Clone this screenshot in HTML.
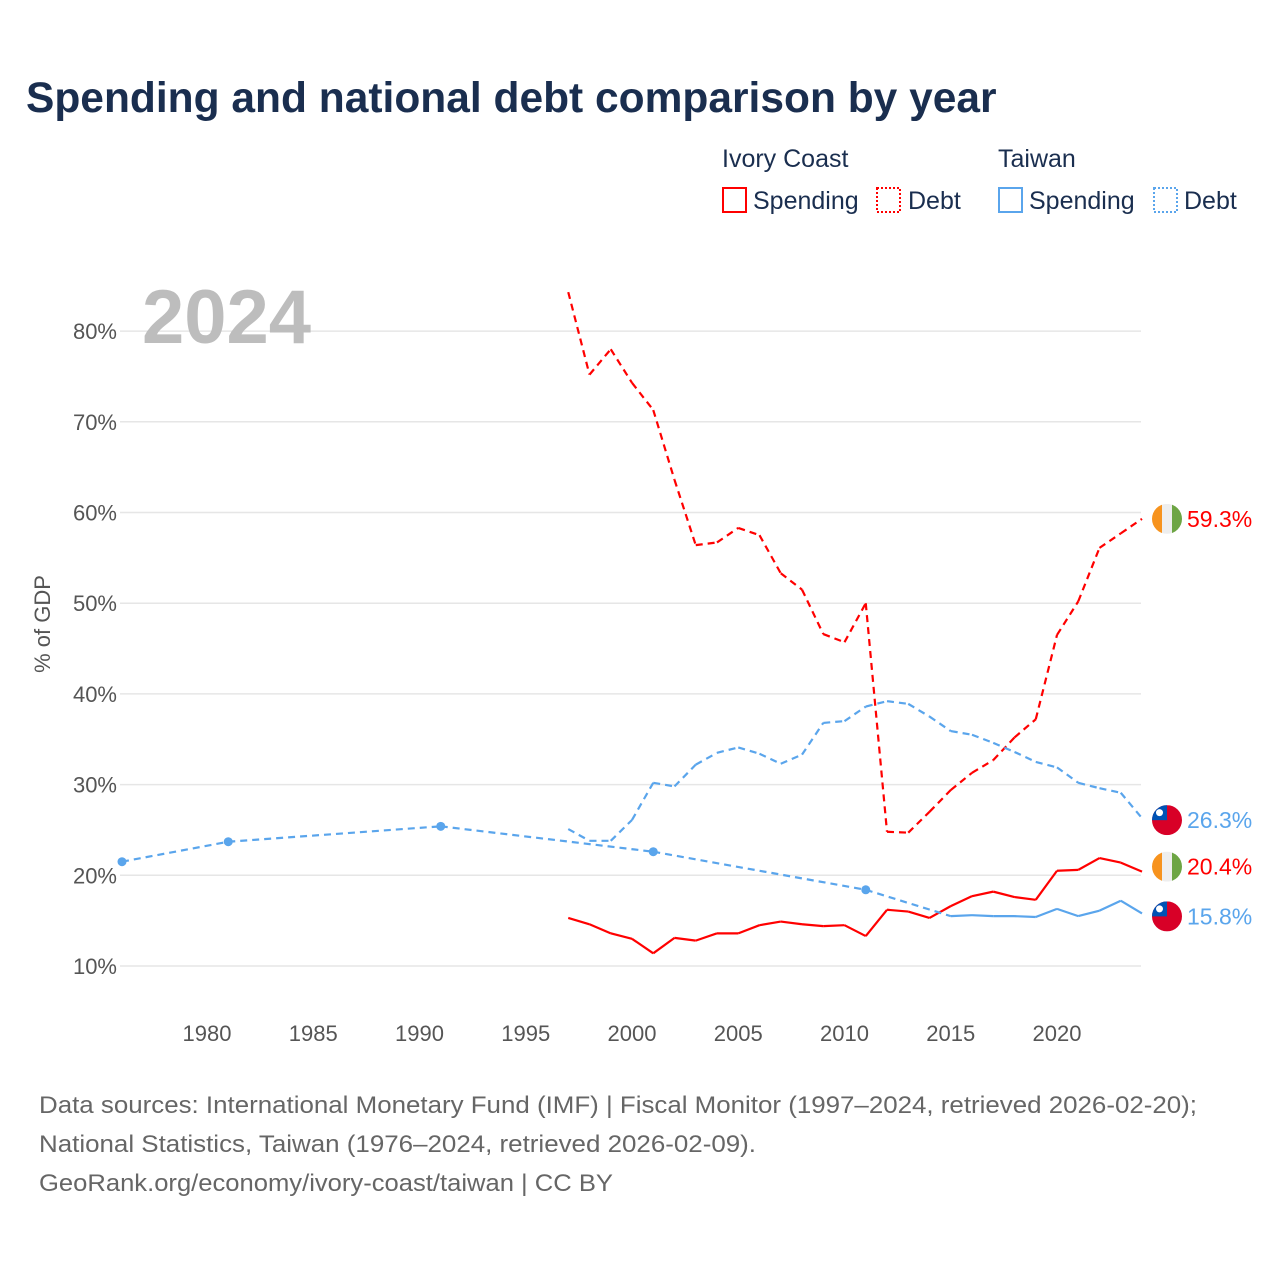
<!DOCTYPE html>
<html><head><meta charset="utf-8"><style>
html,body{margin:0;padding:0;background:#fff;}
svg{display:block;font-family:"Liberation Sans",sans-serif;}
</style></head><body>
<svg id="chart" width="1280" height="1280" viewBox="0 0 1280 1280" xmlns="http://www.w3.org/2000/svg">
<text x="26" y="112" font-size="42.5" font-weight="bold" fill="#1a2e4f">Spending and national debt comparison by year</text>
<g font-size="25" fill="#1a2e4f">
<text x="722" y="167">Ivory Coast</text>
<text x="998" y="167">Taiwan</text>
<rect x="723" y="188" width="23" height="24" fill="none" stroke="#ff0000" stroke-width="2"/>
<text x="753" y="209">Spending</text>
<rect x="877" y="188" width="23" height="24" fill="none" stroke="#ff0000" stroke-width="2" stroke-dasharray="2,2"/>
<text x="908" y="209">Debt</text>
<rect x="999" y="188" width="23" height="24" fill="none" stroke="#5aa5ec" stroke-width="2"/>
<text x="1029" y="209">Spending</text>
<rect x="1154" y="188" width="23" height="24" fill="none" stroke="#5aa5ec" stroke-width="2" stroke-dasharray="2,2"/>
<text x="1184" y="209">Debt</text>
</g>
<g id="grid"></g>
<text x="142" y="343" font-size="76" font-weight="bold" fill="#bdbdbd">2024</text>
<text transform="translate(50,624) rotate(-90)" text-anchor="middle" font-size="22" fill="#555">% of GDP</text>
<g id="yticks" font-size="22" fill="#555"></g>
<g id="xticks" font-size="22" fill="#555"></g>
<g id="series"></g>
<g id="ends"></g>
<g font-size="24" fill="#666">
<text x="39" y="1113" textLength="1158" lengthAdjust="spacingAndGlyphs">Data sources: International Monetary Fund (IMF) | Fiscal Monitor (1997–2024, retrieved 2026-02-20);</text>
<text x="39" y="1152" textLength="717" lengthAdjust="spacingAndGlyphs">National Statistics, Taiwan (1976–2024, retrieved 2026-02-09).</text>
<text x="39" y="1191" textLength="574" lengthAdjust="spacingAndGlyphs">GeoRank.org/economy/ivory-coast/taiwan | CC BY</text>
</g>
</svg>
<script>
const yTicks=[10,20,30,40,50,60,70,80];
const xTicks=[1980,1985,1990,1995,2000,2005,2010,2015,2020];
const ivYears=[1997,1998,1999,2000,2001,2002,2003,2004,2005,2006,2007,2008,2009,2010,2011,2012,2013,2014,2015,2016,2017,2018,2019,2020,2021,2022,2023,2024];
const ivDebt=[84.3,75.2,78.0,74.3,71.3,63.6,56.4,56.7,58.3,57.5,53.3,51.5,46.6,45.7,50.0,24.8,24.7,27.0,29.4,31.3,32.7,35.2,37.2,46.5,50.2,56.1,57.7,59.3];
const ivSpending=[15.3,14.6,13.6,13.0,11.4,13.1,12.8,13.6,13.6,14.5,14.9,14.6,14.4,14.5,13.3,16.2,16.0,15.3,16.6,17.7,18.2,17.6,17.3,20.5,20.6,21.9,21.4,20.4];
const twDebtYears=ivYears;
const twDebt=[25.1,23.8,23.8,26.1,30.2,29.8,32.2,33.5,34.1,33.4,32.3,33.3,36.8,37.0,38.6,39.2,38.9,37.5,35.9,35.5,34.6,33.6,32.5,31.9,30.2,29.6,29.1,26.3];
const twSpYears=[1976,1981,1991,2001,2011,2015,2016,2017,2018,2019,2020,2021,2022,2023,2024];
const twSpending=[21.5,23.7,25.4,22.6,18.4,15.5,15.6,15.5,15.5,15.4,16.3,15.5,16.1,17.2,15.8];

const NS='http://www.w3.org/2000/svg';
const X=y=>207+(y-1980)*21.25;
const Y=v=>966-(v-10)*9.07;
function mk(tag,attrs,parent){const e=document.createElementNS(NS,tag);for(const k in attrs)e.setAttribute(k,attrs[k]);parent.appendChild(e);return e;}
const grid=document.getElementById('grid'),yt=document.getElementById('yticks'),xt=document.getElementById('xticks'),ser=document.getElementById('series'),ends=document.getElementById('ends');
yTicks.forEach(v=>{
  const l=mk('line',{x1:120,x2:1141,y1:Y(v),y2:Y(v),stroke:'#e6e6e6','stroke-width':1.5},grid);
  
  
  const t=mk('text',{x:117,y:Y(v)+8,'text-anchor':'end'},yt);t.textContent=v+'%';
  
  
});
xTicks.forEach(v=>{
  const t=mk('text',{x:X(v),y:1041,'text-anchor':'middle'},xt);t.textContent=v;
  
  
});
function draw(years,vals,color,dashedAll,name){
  const g=mk('g',{},ser);
  
  
  for(let i=0;i<years.length-1;i++){
    const gap=years[i+1]-years[i]>1;
    const a={x1:X(years[i]),y1:Y(vals[i]),x2:X(years[i+1]),y2:Y(vals[i+1]),stroke:color,'stroke-width':2.2,fill:'none'};
    if(dashedAll||gap)a['stroke-dasharray']='7,5';
    const l=mk('line',a,g);
    
    
  }
  years.forEach((yr,i)=>{
    const prev=i>0&&yr-years[i-1]===1, next=i<years.length-1&&years[i+1]-yr===1;
    if(!prev&&!next&&!dashedAll){
      const c=mk('circle',{cx:X(yr),cy:Y(vals[i]),r:4.5,fill:color},g);
      
      
    }
  });
}
draw(ivYears,ivDebt,'#ff0000',true,'ivory-coast-debt-line');
draw(twDebtYears,twDebt,'#5aa5ec',true,'taiwan-debt-line');
draw(ivYears,ivSpending,'#ff0000',false,'ivory-coast-spending-line');
draw(twSpYears,twSpending,'#5aa5ec',false,'taiwan-spending-line');
function flag(cx,cy,type){
  const g=mk('g',{},ends);
  
  
  const id='c'+Math.round(cx)+'_'+Math.round(cy);
  const cp=mk('clipPath',{id:id},g);mk('circle',{cx:cx,cy:cy,r:15},cp);
  const h=mk('g',{'clip-path':'url(#'+id+')'},g);
  if(type==='ci'){
    mk('rect',{x:cx-15,y:cy-15,width:10,height:30,fill:'#f7931e'},h);
    mk('rect',{x:cx-5,y:cy-15,width:10,height:30,fill:'#eeeeee'},h);
    mk('rect',{x:cx+5,y:cy-15,width:10,height:30,fill:'#6da544'},h);
  }else{
    mk('rect',{x:cx-15,y:cy-15,width:30,height:30,fill:'#d80027'},h);
    mk('rect',{x:cx-15,y:cy-15,width:15,height:15,fill:'#0052b4'},h);
    mk('circle',{cx:cx-7.5,cy:cy-7.5,r:3.5,fill:'#fff'},h);
  }
}
function endLabel(v,labelY,color,type,name){
  const ly=labelY===undefined?Y(v):labelY;
  flag(1167,ly,type);
  const t=mk('text',{x:1187,y:ly+8,fill:color,'font-size':23},ends);
  t.textContent=v.toFixed(1)+'%';
  
  
}
endLabel(ivDebt[ivDebt.length-1],undefined,'#ff0000','ci','ivory-coast-debt-value');
endLabel(twDebt[twDebt.length-1],Y(twDebt[twDebt.length-1])+2,'#5aa5ec','tw','taiwan-debt-value');
endLabel(ivSpending[ivSpending.length-1],Y(ivSpending[ivSpending.length-1])-5,'#ff0000','ci','ivory-coast-spending-value');
endLabel(twSpending[twSpending.length-1],Y(twSpending[twSpending.length-1])+3,'#5aa5ec','tw','taiwan-spending-value');
</script>
</body></html>
